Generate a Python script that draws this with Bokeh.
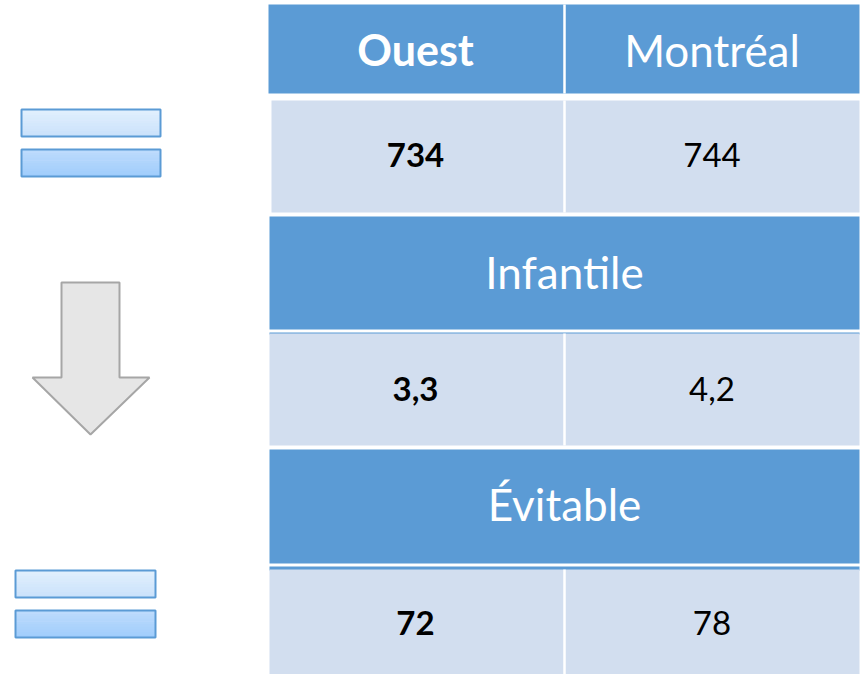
from bokeh.plotting import figure
from bokeh.models import Range1d
from bokeh.core.properties import value
from bokeh.embed import file_html
from bokeh.resources import INLINE

# ---- data ----
columns = ["Ouest", "Montréal"]
section_titles = ["Infantile", "Évitable"]
ouest_values = [734, 3.3, 72]
montreal_values = [744, 4.2, 78]

def fmt(v):
    return str(v).replace(".", ",")

# ---- layout (image pixel space) ----
W, H = 864, 674
p = figure(width=W, height=H, x_range=Range1d(0, W), y_range=Range1d(H, 0),
           output_backend="svg", toolbar_location=None, min_border=0,
           x_axis_location=None, y_axis_location=None)
p.grid.visible = False
p.outline_line_color = None
p.background_fill_color = "white"
p.border_fill_color = "white"

HEAD = "#5B9BD5"
CELL = "#D2DEEF"
FONT = value("Lato")

TL, TM, TR = 268, 564, 859
col_centers = [(TL + TM) / 2 - 1, (TM + TR) / 2]

head_rows = [(4, 93), (216, 329), (449, 563)]
val_rows = [(100, 212, 271), (333, 445, 269), (569, 680, 269)]
strips = [(332, 334), (566, 570)]

p.quad(left=[TL, 269, 269], right=[TR] * 3,
       top=[h[0] for h in head_rows], bottom=[h[1] for h in head_rows],
       fill_color=HEAD, line_color=None)
p.quad(left=[269, 269], right=[TR, TR], top=[s[0] for s in strips], bottom=[s[1] for s in strips],
       fill_color=HEAD, line_color=None)
p.quad(left=[r[2] for r in val_rows], right=[TR] * 3,
       top=[r[0] for r in val_rows], bottom=[r[1] for r in val_rows],
       fill_color=CELL, line_color=None)
div_y0 = [head_rows[0][0]] + [r[0] for r in val_rows]
div_y1 = [head_rows[0][1]] + [r[1] for r in val_rows]
p.segment(x0=[TM] * 4, x1=[TM] * 4, y0=div_y0, y1=div_y1, line_color="white", line_width=2.5)

# header texts (y = visual centre of capitals)
p.text(x=[col_centers[0]], y=[49], text=[columns[0]], text_align="center", text_baseline="middle",
       text_font=FONT, text_font_size=value("43px"), text_font_style="bold", text_color="white")
p.text(x=[col_centers[1]], y=[49], text=[columns[1]], text_align="center", text_baseline="middle",
       text_font=FONT, text_font_size=value("44px"), text_color="white")
sec_cx = (269 + TR) / 2
p.text(x=[sec_cx] * 2, y=[271, 503], text=section_titles, text_align="center", text_baseline="middle",
       text_font=FONT, text_font_size=value("44px"), text_color="white")

val_mid = [154, 388, 622]
p.text(x=[col_centers[0]] * 3, y=val_mid, text=[fmt(v) for v in ouest_values],
       text_align="center", text_baseline="middle", text_font=FONT,
       text_font_size=value("33px"), text_font_style="bold", text_color="black")
p.text(x=[col_centers[1]] * 3, y=val_mid, text=[fmt(v) for v in montreal_values],
       text_align="center", text_baseline="middle", text_font=FONT,
       text_font_size=value("33px"), text_color="black")

# ---- decorative equals signs with vertical gradient ----
def hexmix(c1, c2, t):
    a = [int(c1[i:i + 2], 16) for i in (1, 3, 5)]
    b = [int(c2[i:i + 2], 16) for i in (1, 3, 5)]
    return "#%02x%02x%02x" % tuple(round(a[k] + (b[k] - a[k]) * t) for k in range(3))

def grad_box(x0, x1, y0, y1, c_top, c_bot, n=10):
    h = (y1 - y0) / n
    lefts, rights, tops, bots, cols = [], [], [], [], []
    for i in range(n):
        lefts.append(x0); rights.append(x1)
        tops.append(y0 + i * h); bots.append(y0 + (i + 1) * h + 0.5)
        cols.append(hexmix(c_top, c_bot, i / (n - 1)))
    p.quad(left=lefts, right=rights, top=tops, bottom=bots, fill_color=cols, line_color=None)
    p.quad(left=[x0], right=[x1], top=[y0], bottom=[y1], fill_color=None,
           line_color=HEAD, line_width=2)

for (x0, x1, ya, yb) in [(21, 160, 109, 136), (15, 155, 570, 597)]:
    grad_box(x0, x1, ya, yb, "#E0EFFD", "#CBE2FB")
for (x0, x1, ya, yb) in [(21, 160, 149, 176), (15, 155, 610, 637)]:
    grad_box(x0, x1, ya, yb, "#BCDBFC", "#A1CDFC")

# ---- arrow ----
ax = [61, 119, 119, 149, 90, 32, 61]
ay = [282, 282, 377, 377, 434, 377, 377]
p.patch(x=ax, y=ay, fill_color="#E6E6E6", line_color="#A6A6A6", line_width=2)

open("out.html", "w").write(file_html(p, INLINE))
